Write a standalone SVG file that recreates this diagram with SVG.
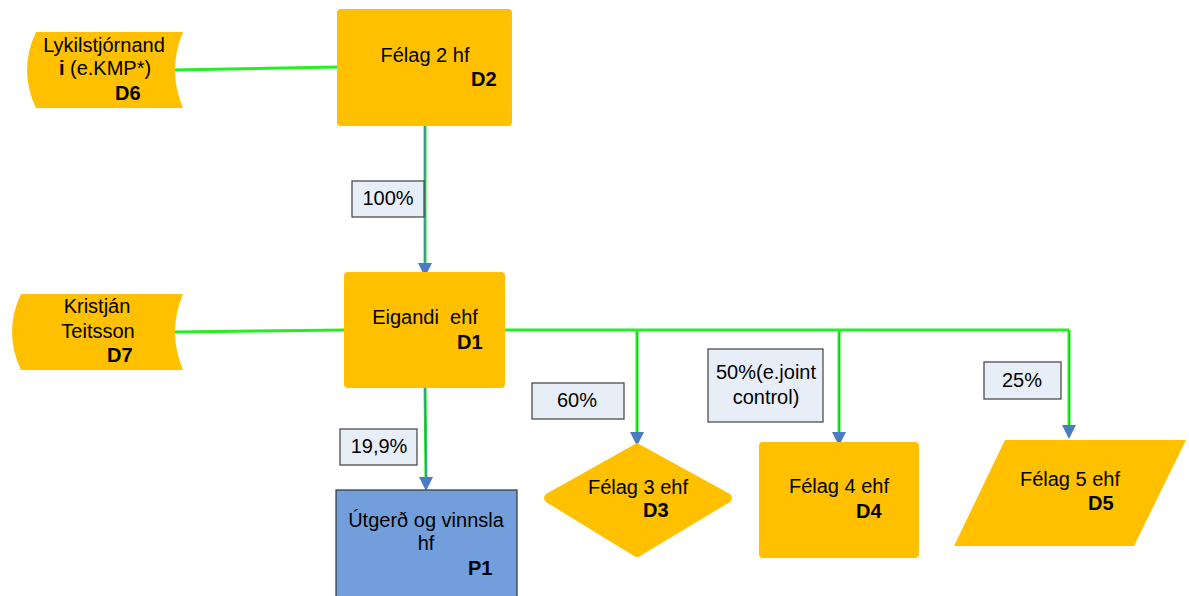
<svg xmlns="http://www.w3.org/2000/svg" width="1189" height="596" viewBox="0 0 1189 596">
<style>
text{font-family:"Liberation Sans",Arial,sans-serif;font-size:20px;fill:#000}
.b{font-weight:bold}
.m{text-anchor:middle}
.node{fill:#FFC000}
.lbl{fill:#E8EEF8;stroke:#404040;stroke-width:1.2}
.g{stroke:#22F022;stroke-width:3;fill:none}
.bl{stroke:#4A7CC4;stroke-width:1.5;fill:none}
.bt{stroke:#4A7CC4;stroke-width:0.8;fill:none}
.arr{fill:#4A7CC4}
</style>
<rect width="1189" height="596" fill="#fff"/>
<g id="connectors">
<path class="g" d="M174,70 L341,67"/>
<path class="g" d="M175,332 L348,330"/>
<path class="g" d="M425,122 L425,264"/>
<path class="bl" d="M425,122 L425,264"/>
<path class="g" d="M425,386 L426,478"/>
<path class="bl" d="M425,386 L426,478"/>
<path class="g" d="M500,330 L1069,330 M637,330 L637,433 M839,330 L839,433 M1069,330 L1069,426"/>
<path class="bt" d="M637.5,332 L637.5,433 M839.5,332 L839.5,433 M1069.5,332 L1069.5,426"/>
<polygon class="arr" points="418,263 432,263 425,277"/>
<polygon class="arr" points="419,477 433,477 426,491"/>
<polygon class="arr" points="630,432 644,432 637,446"/>
<polygon class="arr" points="832,432 846,432 839,446"/>
<polygon class="arr" points="1062,425 1076,425 1069,439"/>
</g>
<g id="D6">
<path class="node" d="M36,32 L183,32 Q167,70 183,108 L36,108 Q18,70 36,32 Z"/>
<text class="m" x="104" y="52">Lykilstjórnand</text>
<text class="m" x="105" y="75"><tspan class="b">i</tspan> (e.KMP*)</text>
<text class="b" x="115" y="100">D6</text>
</g>
<g id="D2">
<rect class="node" x="337" y="9" width="175" height="117" rx="4"/>
<text class="m" x="425" y="62">Félag 2 hf</text>
<text class="b" x="471" y="86">D2</text>
</g>
<g id="L100">
<rect class="lbl" x="352" y="181" width="72" height="36"/>
<text class="m" x="388" y="205">100%</text>
</g>
<g id="D7">
<path class="node" d="M21,294 L183,294 Q167,332 183,370 L21,370 Q3,332 21,294 Z"/>
<text class="m" x="97" y="313">Kristján</text>
<text class="m" x="98" y="338">Teitsson</text>
<text class="b" x="107" y="362">D7</text>
</g>
<g id="D1">
<rect class="node" x="344" y="272" width="161" height="116" rx="4"/>
<text class="m" x="425" y="324" xml:space="preserve">Eigandi  ehf</text>
<text class="b" x="457" y="349">D1</text>
</g>
<g id="L199">
<rect class="lbl" x="340" y="429" width="77" height="36"/>
<text class="m" x="379" y="453">19,9%</text>
</g>
<g id="P1">
<rect x="336" y="490" width="181" height="120" fill="#729FDB" stroke="#333" stroke-width="1.2"/>
<text class="m" x="426" y="527">Útgerð og vinnsla</text>
<text class="m" x="426" y="550">hf</text>
<text class="b" x="468" y="575">P1</text>
</g>
<g id="L60">
<rect class="lbl" x="532" y="383" width="92" height="36"/>
<text class="m" x="577" y="407">60%</text>
</g>
<g id="D3">
<path class="node" d="M637,443 L730,494 Q734,498 730,502 L640,556 Q637,558 634,556 L546,502 Q542,498 546,494 Z"/>
<text class="m" x="638" y="494">Félag 3 ehf</text>
<text class="b" x="643" y="517">D3</text>
</g>
<g id="L50">
<rect class="lbl" x="708" y="349" width="115" height="73"/>
<text class="m" x="766" y="379">50%(e.joint</text>
<text class="m" x="766" y="404">control)</text>
</g>
<g id="D4">
<rect class="node" x="759" y="442" width="160" height="116" rx="4"/>
<text class="m" x="839" y="493">Félag 4 ehf</text>
<text class="b" x="856" y="518">D4</text>
</g>
<g id="L25">
<rect class="lbl" x="984" y="362" width="77" height="37"/>
<text class="m" x="1022" y="387">25%</text>
</g>
<g id="D5">
<polygon class="node" points="1005,440 1186,440 1134,546 954,546"/>
<text class="m" x="1070" y="486">Félag 5 ehf</text>
<text class="b" x="1088" y="510">D5</text>
</g>
</svg>
